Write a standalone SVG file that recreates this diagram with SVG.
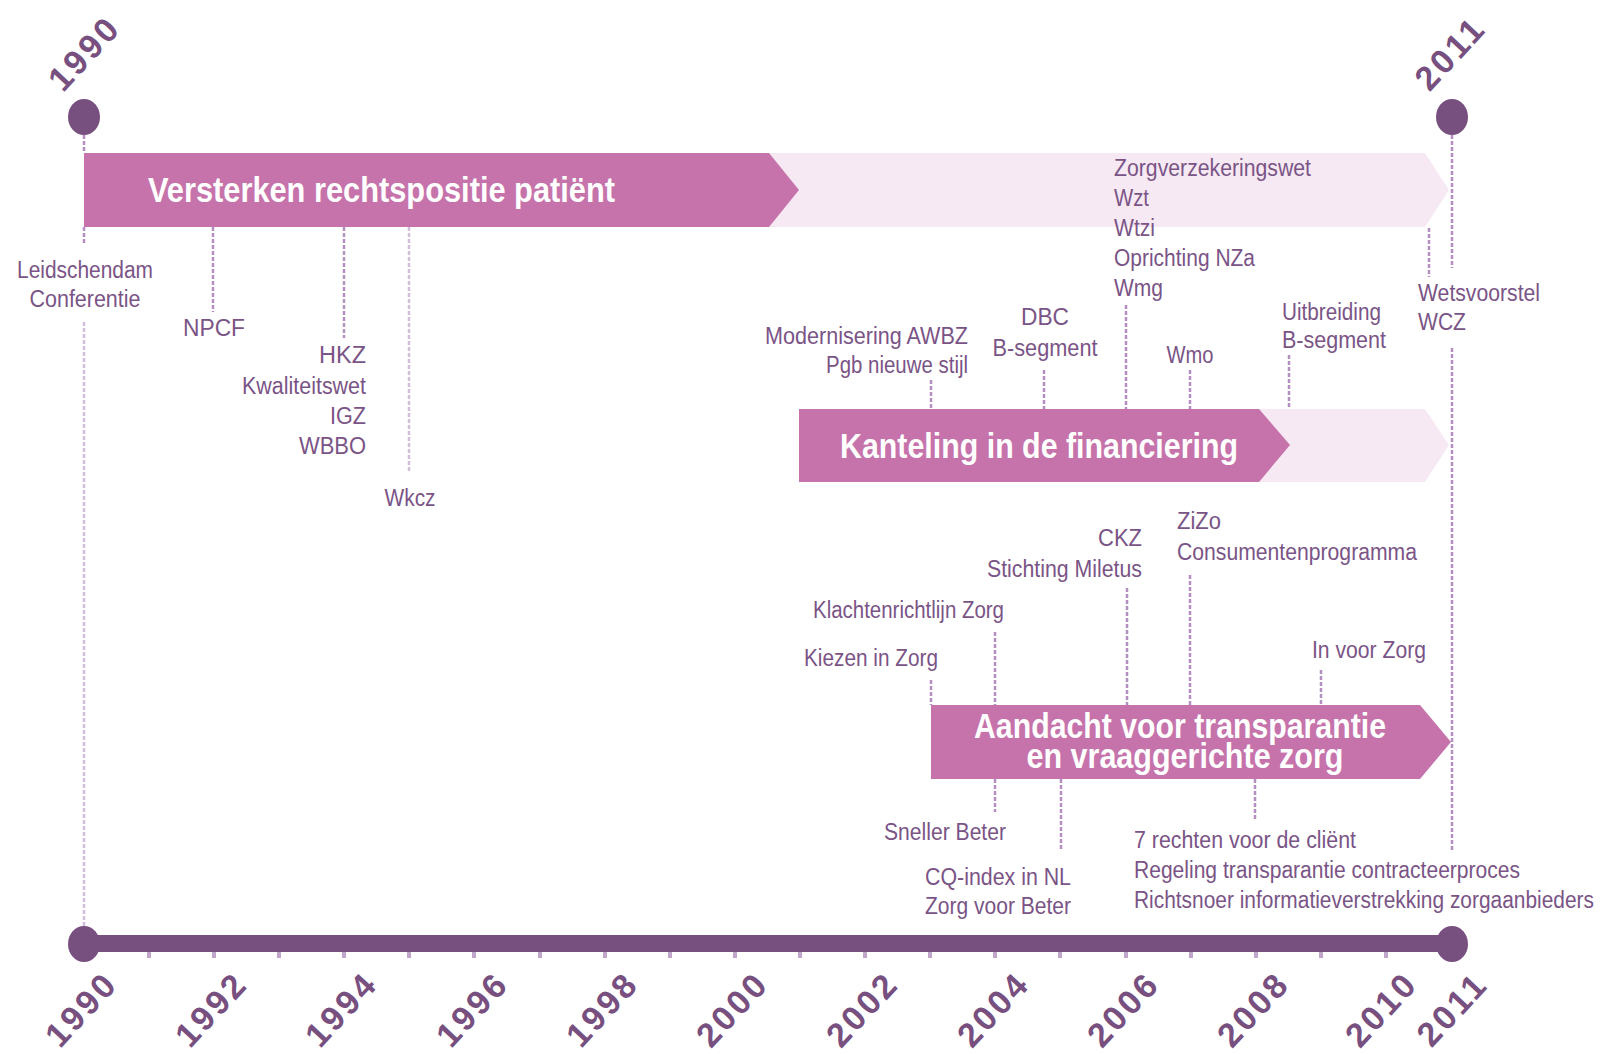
<svg xmlns="http://www.w3.org/2000/svg" width="1602" height="1054" viewBox="0 0 1602 1054">
<style>
  .lbl{font-family:"Liberation Sans",Arial,sans-serif;font-size:23px;fill:#7a5486}
  .lbl text{lengthAdjust:spacingAndGlyphs}
  .ban{font-family:"Liberation Sans",Arial,sans-serif;font-size:35px;font-weight:bold;fill:#ffffff}
  .yr{font-family:"Liberation Sans",Arial,sans-serif;font-size:34px;font-weight:bold;fill:#77507f;letter-spacing:3px}
  .dark{fill:#c673ab}
  .light{fill:#f6e9f3}
  .dot{fill:#77507f}
  .con{stroke:#b48dc1;stroke-width:2.5;stroke-dasharray:4 2;fill:none}
  .conl{stroke:#d2bedb;stroke-width:2.5;stroke-dasharray:4 2;fill:none}
  .tick{fill:#c0a6c8}
</style>

<g id="banner-rechtspositie">
  <polygon class="light" points="84,153 1425,153 1449,190 1425,227 84,227"/>
  <polygon class="dark" points="84,153 769,153 799,190 769,227 84,227"/>
  <text class="ban" x="148" y="202" textLength="467" lengthAdjust="spacingAndGlyphs">Versterken rechtspositie patiënt</text>
</g>
<g id="banner-financiering">
  <polygon class="light" points="799,409 1425,409 1449,445 1425,482 799,482"/>
  <polygon class="dark" points="799,409 1259,409 1290,445 1259,482 799,482"/>
  <text class="ban" x="840" y="458" textLength="398" lengthAdjust="spacingAndGlyphs">Kanteling in de financiering</text>
</g>
<g id="banner-transparantie">
  <polygon class="dark" points="931,705 1420,705 1451,742 1420,779 931,779"/>
  <text class="ban" x="1180" y="738" text-anchor="middle" textLength="412" lengthAdjust="spacingAndGlyphs">Aandacht voor transparantie</text>
  <text class="ban" x="1185" y="768" text-anchor="middle" textLength="317" lengthAdjust="spacingAndGlyphs">en vraaggerichte zorg</text>
</g>

<g id="connectors">
  <line class="con" x1="84" y1="135" x2="84" y2="153"/>
  <line class="con" x1="84" y1="227" x2="84" y2="244"/>
  <line class="conl" x1="84" y1="322" x2="84" y2="927"/>
  <line class="con" x1="1452" y1="135" x2="1452" y2="268"/>
  <line class="con" x1="1452" y1="348" x2="1452" y2="852"/>
  <line class="con" x1="213" y1="227" x2="213" y2="312"/>
  <line class="con" x1="344" y1="227" x2="344" y2="338"/>
  <line class="conl" x1="409" y1="227" x2="409" y2="473"/>
  <line class="con" x1="1429" y1="228" x2="1429" y2="277"/>
  <line class="con" x1="1126" y1="305" x2="1126" y2="409"/>
  <line class="con" x1="931" y1="380" x2="931" y2="409"/>
  <line class="con" x1="1044" y1="370" x2="1044" y2="409"/>
  <line class="con" x1="1190" y1="370" x2="1190" y2="409"/>
  <line class="con" x1="1289" y1="355" x2="1289" y2="409"/>
  <line class="con" x1="1190" y1="575" x2="1190" y2="705"/>
  <line class="con" x1="1127" y1="588" x2="1127" y2="705"/>
  <line class="con" x1="995" y1="632" x2="995" y2="705"/>
  <line class="con" x1="931" y1="680" x2="931" y2="705"/>
  <line class="con" x1="1321" y1="670" x2="1321" y2="705"/>
  <line class="con" x1="995" y1="779" x2="995" y2="812"/>
  <line class="con" x1="1061" y1="779" x2="1061" y2="850"/>
  <line class="con" x1="1255" y1="779" x2="1255" y2="820"/>
</g>

<g id="axis">
  <rect x="84" y="935" width="1368" height="17" fill="#77507f"/>
  <g class="tick">
    <rect x="147" y="952" width="4" height="6"/><rect x="212" y="952" width="4" height="6"/>
    <rect x="277" y="952" width="4" height="6"/><rect x="342" y="952" width="4" height="6"/>
    <rect x="407" y="952" width="4" height="6"/><rect x="472" y="952" width="4" height="6"/>
    <rect x="538" y="952" width="4" height="6"/><rect x="603" y="952" width="4" height="6"/>
    <rect x="668" y="952" width="4" height="6"/><rect x="733" y="952" width="4" height="6"/>
    <rect x="798" y="952" width="4" height="6"/><rect x="863" y="952" width="4" height="6"/>
    <rect x="928" y="952" width="4" height="6"/><rect x="993" y="952" width="4" height="6"/>
    <rect x="1058" y="952" width="4" height="6"/><rect x="1124" y="952" width="4" height="6"/>
    <rect x="1189" y="952" width="4" height="6"/><rect x="1254" y="952" width="4" height="6"/>
    <rect x="1319" y="952" width="4" height="6"/><rect x="1384" y="952" width="4" height="6"/>
  </g>
  <ellipse class="dot" cx="84" cy="944" rx="16" ry="18"/>
  <ellipse class="dot" cx="1452" cy="944" rx="16" ry="18"/>
  <g class="yr" text-anchor="middle">
    <text transform="translate(81,1009) rotate(-47)" y="12">1990</text>
    <text transform="translate(211,1009) rotate(-47)" y="12">1992</text>
    <text transform="translate(341,1009) rotate(-47)" y="12">1994</text>
    <text transform="translate(472,1009) rotate(-47)" y="12">1996</text>
    <text transform="translate(602,1009) rotate(-47)" y="12">1998</text>
    <text transform="translate(732,1009) rotate(-47)" y="12">2000</text>
    <text transform="translate(862,1009) rotate(-47)" y="12">2002</text>
    <text transform="translate(993,1009) rotate(-47)" y="12">2004</text>
    <text transform="translate(1123,1009) rotate(-47)" y="12">2006</text>
    <text transform="translate(1253,1009) rotate(-47)" y="12">2008</text>
    <text transform="translate(1381,1009) rotate(-47)" y="12">2010</text>
    <text transform="translate(1452,1009) rotate(-47)" y="12">2011</text>
  </g>
</g>

<g id="start-1990">
  <ellipse class="dot" cx="84" cy="117" rx="16" ry="18"/>
  <text class="yr" text-anchor="middle" transform="translate(84,53) rotate(-47)" y="12">1990</text>
</g>
<g id="end-2011">
  <ellipse class="dot" cx="1452" cy="117" rx="16" ry="18"/>
  <text class="yr" text-anchor="middle" transform="translate(1450,53) rotate(-47)" y="12">2011</text>
</g>

<g id="n-leidschendam" class="lbl" text-anchor="middle">
  <text x="85" y="278" textLength="136" lengthAdjust="spacingAndGlyphs">Leidschendam</text>
  <text x="85" y="307" textLength="111" lengthAdjust="spacingAndGlyphs">Conferentie</text>
</g>
<g id="n-npcf" class="lbl" text-anchor="middle">
  <text x="214" y="336" textLength="62" lengthAdjust="spacingAndGlyphs">NPCF</text>
</g>
<g id="n-1994" class="lbl" text-anchor="end">
  <text x="366" y="363" textLength="47" lengthAdjust="spacingAndGlyphs">HKZ</text>
  <text x="366" y="394" textLength="124" lengthAdjust="spacingAndGlyphs">Kwaliteitswet</text>
  <text x="366" y="424" textLength="36" lengthAdjust="spacingAndGlyphs">IGZ</text>
  <text x="366" y="454" textLength="67" lengthAdjust="spacingAndGlyphs">WBBO</text>
</g>
<g id="n-wkcz" class="lbl" text-anchor="middle">
  <text x="410" y="506" textLength="51" lengthAdjust="spacingAndGlyphs">Wkcz</text>
</g>
<g id="n-2006" class="lbl">
  <text x="1114" y="176" textLength="197" lengthAdjust="spacingAndGlyphs">Zorgverzekeringswet</text>
  <text x="1114" y="206" textLength="35" lengthAdjust="spacingAndGlyphs">Wzt</text>
  <text x="1114" y="236" textLength="41" lengthAdjust="spacingAndGlyphs">Wtzi</text>
  <text x="1114" y="266" textLength="141" lengthAdjust="spacingAndGlyphs">Oprichting NZa</text>
  <text x="1114" y="296" textLength="49" lengthAdjust="spacingAndGlyphs">Wmg</text>
</g>
<g id="n-awbz" class="lbl" text-anchor="end">
  <text x="968" y="344" textLength="203" lengthAdjust="spacingAndGlyphs">Modernisering AWBZ</text>
  <text x="968" y="373" textLength="142" lengthAdjust="spacingAndGlyphs">Pgb nieuwe stijl</text>
</g>
<g id="n-dbc" class="lbl" text-anchor="middle">
  <text x="1045" y="325" textLength="48" lengthAdjust="spacingAndGlyphs">DBC</text>
  <text x="1045" y="356" textLength="105" lengthAdjust="spacingAndGlyphs">B-segment</text>
</g>
<g id="n-wmo" class="lbl" text-anchor="middle">
  <text x="1190" y="363" textLength="47" lengthAdjust="spacingAndGlyphs">Wmo</text>
</g>
<g id="n-uitbreiding" class="lbl">
  <text x="1282" y="320" textLength="99" lengthAdjust="spacingAndGlyphs">Uitbreiding</text>
  <text x="1282" y="348" textLength="104" lengthAdjust="spacingAndGlyphs">B-segment</text>
</g>
<g id="n-wcz" class="lbl">
  <text x="1418" y="301" textLength="122" lengthAdjust="spacingAndGlyphs">Wetsvoorstel</text>
  <text x="1418" y="330" textLength="48" lengthAdjust="spacingAndGlyphs">WCZ</text>
</g>
<g id="n-zizo" class="lbl">
  <text x="1177" y="529" textLength="44" lengthAdjust="spacingAndGlyphs">ZiZo</text>
  <text x="1177" y="560" textLength="240" lengthAdjust="spacingAndGlyphs">Consumentenprogramma</text>
</g>
<g id="n-ckz" class="lbl" text-anchor="end">
  <text x="1142" y="546" textLength="44" lengthAdjust="spacingAndGlyphs">CKZ</text>
  <text x="1142" y="577" textLength="155" lengthAdjust="spacingAndGlyphs">Stichting Miletus</text>
</g>
<g id="n-klacht" class="lbl" text-anchor="end">
  <text x="1004" y="618" textLength="191" lengthAdjust="spacingAndGlyphs">Klachtenrichtlijn Zorg</text>
</g>
<g id="n-kiezen" class="lbl" text-anchor="end">
  <text x="938" y="666" textLength="134" lengthAdjust="spacingAndGlyphs">Kiezen in Zorg</text>
</g>
<g id="n-invoor" class="lbl">
  <text x="1312" y="658" textLength="114" lengthAdjust="spacingAndGlyphs">In voor Zorg</text>
</g>
<g id="n-sneller" class="lbl" text-anchor="end">
  <text x="1006" y="840" textLength="122" lengthAdjust="spacingAndGlyphs">Sneller Beter</text>
</g>
<g id="n-cq" class="lbl">
  <text x="925" y="885" textLength="146" lengthAdjust="spacingAndGlyphs">CQ-index in NL</text>
  <text x="925" y="914" textLength="146" lengthAdjust="spacingAndGlyphs">Zorg voor Beter</text>
</g>
<g id="n-rechten" class="lbl">
  <text x="1134" y="848" textLength="222" lengthAdjust="spacingAndGlyphs">7 rechten voor de cliënt</text>
  <text x="1134" y="878" textLength="386" lengthAdjust="spacingAndGlyphs">Regeling transparantie contracteerproces</text>
  <text x="1134" y="908" textLength="460" lengthAdjust="spacingAndGlyphs">Richtsnoer informatieverstrekking zorgaanbieders</text>
</g>
</svg>
